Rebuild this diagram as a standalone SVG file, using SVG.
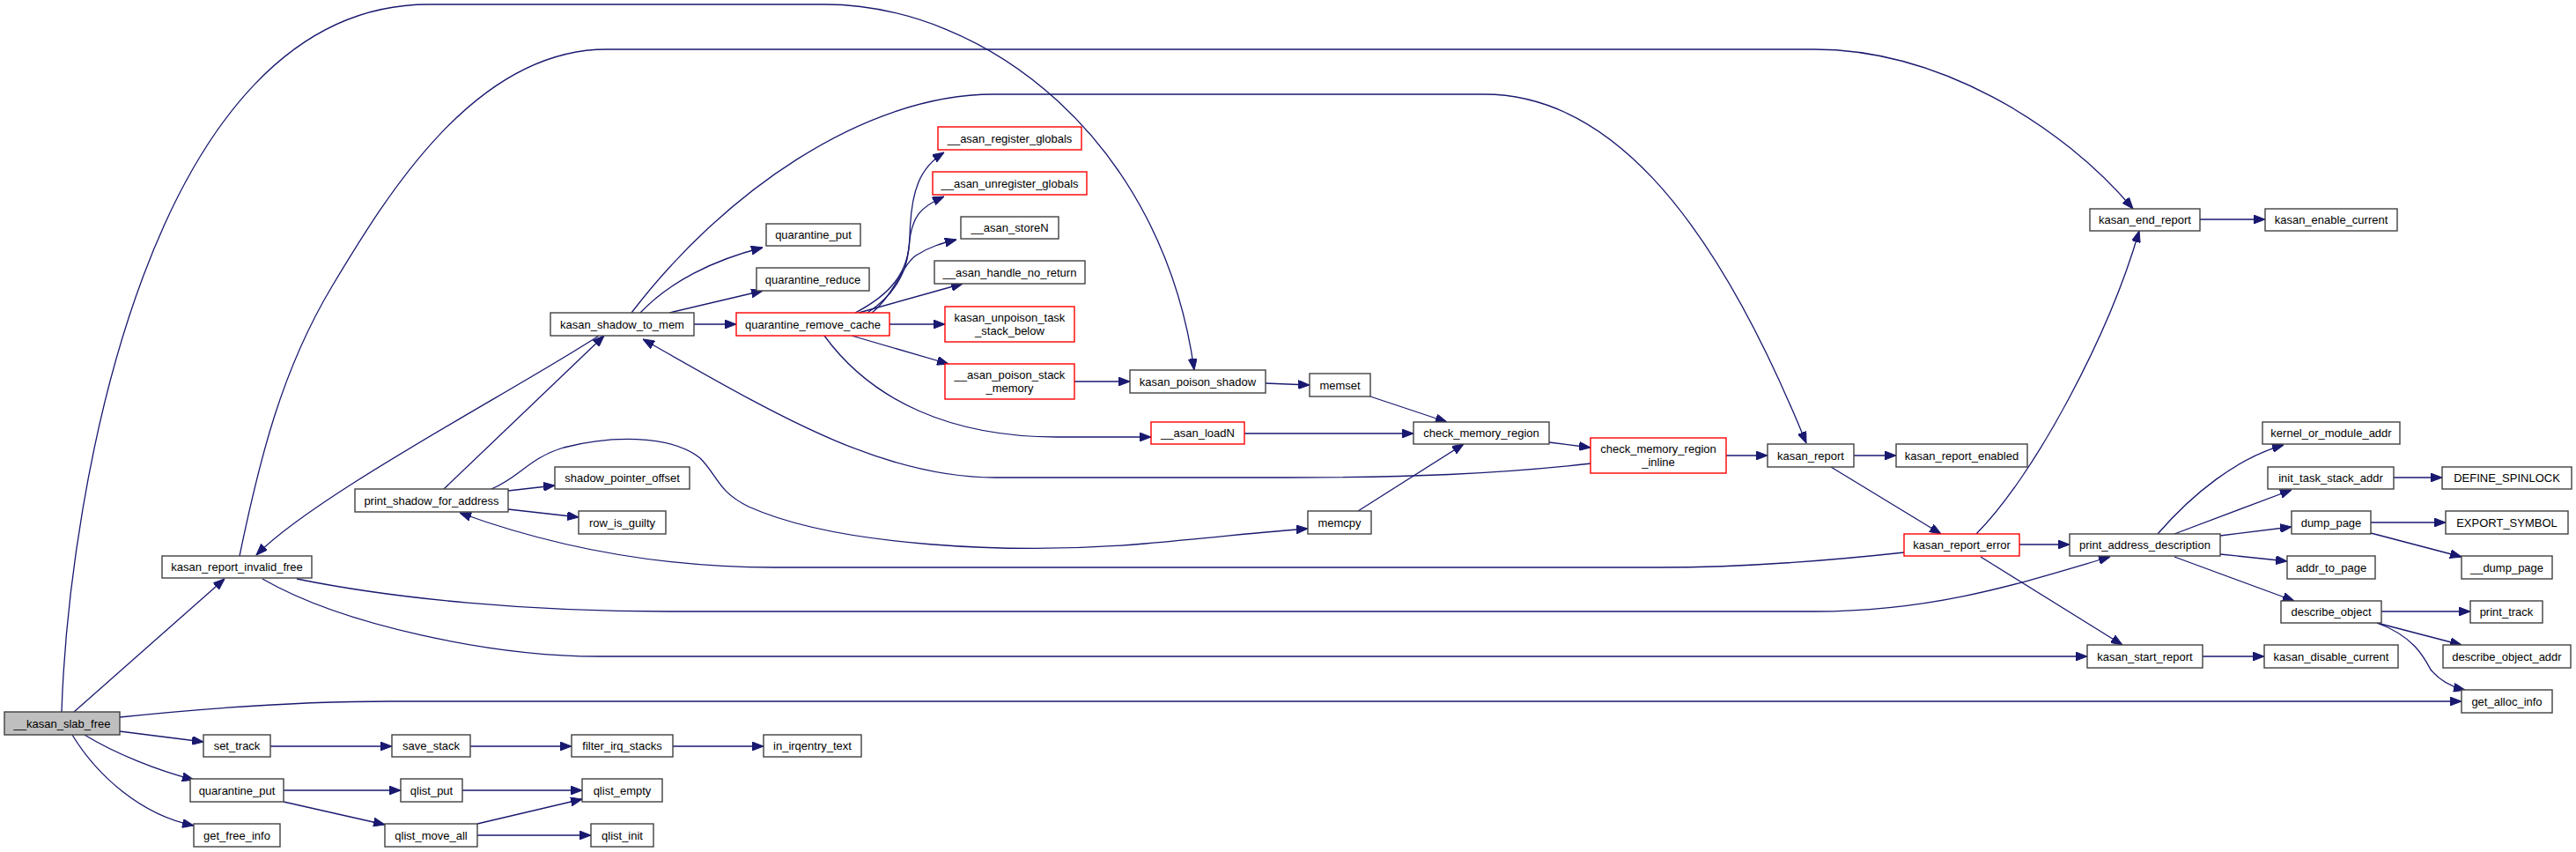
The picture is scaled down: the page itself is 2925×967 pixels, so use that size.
<svg xmlns="http://www.w3.org/2000/svg" width="2925" height="967" viewBox="0 0 2925 967">
<style>
.n rect{fill:#ffffff;stroke:#404040;stroke-width:1.4}
.r rect{stroke:#ff0000}
.root rect{fill:#bfbfbf}
text{font-family:"Liberation Sans",Arial,Helvetica,sans-serif;font-size:13px;text-anchor:middle;fill:#000000}
#edges path{fill:none;stroke:#191970;stroke-width:1.3;marker-end:url(#ah)}
</style>
<defs>
<marker id="ah" viewBox="0 0 13 10" refX="13" refY="5" markerWidth="13" markerHeight="10" markerUnits="userSpaceOnUse" orient="auto">
<path d="M0,0 L13,5 L0,10 z" fill="#191970" stroke="#191970" stroke-width="1"/>
</marker>
</defs>
<rect x="0" y="0" width="2925" height="967" fill="#ffffff"/>
<g id="edges">
<path d="M70,808 C78,560 170,5 487,5 L936,5 C1120,5 1320,160 1356,420"/>
<path d="M84,808 L255,657"/>
<path d="M136,814 C250,802 350,796 445,796 L2795,796"/>
<path d="M136,830 L231,842"/>
<path d="M96,834 C130,855 180,875 220,885"/>
<path d="M82,834 C110,880 160,925 220,937"/>
<path d="M307,847 L445,847"/>
<path d="M534,847 L649,847"/>
<path d="M764,847 L867,847"/>
<path d="M322,897 L455,897"/>
<path d="M322,910 L437,936"/>
<path d="M525,897 L661,897"/>
<path d="M542,935 L661,907"/>
<path d="M542,948 L671,948"/>
<path d="M272,631 C295,520 320,420 377,325 C440,220 540,56 689,56 L2060,56 C2200,56 2340,140 2422,237"/>
<path d="M717,355 C820,220 980,107 1128,107 L1685,107 C1820,107 1940,230 2051,503"/>
<path d="M727,355 C760,320 810,295 866,281"/>
<path d="M760,355 L866,330"/>
<path d="M788,368 L836,368"/>
<path d="M680,381 C590,440 360,560 291,630"/>
<path d="M504,555 L686,381"/>
<path d="M577,557 L630,551"/>
<path d="M577,578 L657,587"/>
<path d="M558,555 C590,542 600,520 640,508 C690,495 760,492 795,520 C815,540 815,558 850,575 C950,620 1150,630 1300,617 C1380,610 1440,603 1485,600"/>
<path d="M2162,627 C2080,636 1980,644 1882,644 L880,644 C760,644 640,625 522,582"/>
<path d="M971,355 C1010,335 1032,310 1033,270 C1034,215 1045,190 1072,173"/>
<path d="M985,355 C1015,335 1030,310 1032,280 C1035,245 1045,235 1072,223"/>
<path d="M990,355 C1015,335 1025,300 1040,290 C1055,280 1070,276 1086,272"/>
<path d="M975,355 L1093,322"/>
<path d="M1010,368 L1073,368"/>
<path d="M967,381 L1077,413"/>
<path d="M936,381 C990,455 1080,496 1200,496 L1307,496"/>
<path d="M1220,433 L1283,433"/>
<path d="M1437,435 L1487,437"/>
<path d="M1556,450 L1643,479"/>
<path d="M1413,492 L1605,492"/>
<path d="M1542,580 L1662,504"/>
<path d="M1759,502 L1806,508"/>
<path d="M1960,517 L2007,517"/>
<path d="M2105,517 L2153,517"/>
<path d="M2079,530 L2204,606"/>
<path d="M2293,618 L2350,618"/>
<path d="M2244,606 C2310,540 2395,380 2429,262"/>
<path d="M2249,632 L2410,732"/>
<path d="M2501,745 L2571,745"/>
<path d="M2498,249 L2572,249"/>
<path d="M337,657 C450,680 600,694 760,694 L2060,694 C2200,694 2300,660 2396,632"/>
<path d="M298,657 C390,710 560,745 680,745 L2370,745"/>
<path d="M2450,606 C2490,560 2540,520 2593,505"/>
<path d="M2469,606 L2602,556"/>
<path d="M2521,608 L2602,598"/>
<path d="M2521,629 L2597,637"/>
<path d="M2469,632 L2605,682"/>
<path d="M2718,542 L2773,542"/>
<path d="M2692,593 L2777,593"/>
<path d="M2692,605 L2795,632"/>
<path d="M2704,694 L2805,694"/>
<path d="M2699,707 L2795,732"/>
<path d="M2699,707 C2740,722 2752,745 2760,760 C2770,772 2785,780 2799,783"/>
<path d="M1807,526 C1700,538 1600,542 1460,542 L1130,542 C1000,542 880,470 730,385"/>
</g>
<g id="n_kasan_slab_free" class="n root"><rect x="5" y="808" width="131" height="26"/><text x="70.5" y="825.5">__kasan_slab_free</text></g>
<g id="n_kasan_poison_shadow" class="n"><rect x="1283" y="420" width="154" height="26"/><text x="1360" y="437.5">kasan_poison_shadow</text></g>
<g id="n_kasan_report_invalid_free" class="n"><rect x="184" y="631" width="170" height="25"/><text x="269" y="648">kasan_report_invalid_free</text></g>
<g id="n_get_alloc_info" class="n"><rect x="2795" y="783" width="103" height="26"/><text x="2846.5" y="800.5">get_alloc_info</text></g>
<g id="n_set_track" class="n"><rect x="231" y="834" width="76" height="25"/><text x="269" y="851">set_track</text></g>
<g id="n_quarantine_put_b" class="n"><rect x="216" y="884" width="106" height="26"/><text x="269" y="901.5">quarantine_put</text></g>
<g id="n_get_free_info" class="n"><rect x="220" y="935" width="98" height="26"/><text x="269" y="952.5">get_free_info</text></g>
<g id="n_save_stack" class="n"><rect x="445" y="834" width="89" height="25"/><text x="489.5" y="851">save_stack</text></g>
<g id="n_filter_irq_stacks" class="n"><rect x="649" y="834" width="115" height="25"/><text x="706.5" y="851">filter_irq_stacks</text></g>
<g id="n_in_irqentry_text" class="n"><rect x="867" y="834" width="111" height="25"/><text x="922.5" y="851">in_irqentry_text</text></g>
<g id="n_qlist_put" class="n"><rect x="455" y="884" width="70" height="26"/><text x="490" y="901.5">qlist_put</text></g>
<g id="n_qlist_move_all" class="n"><rect x="437" y="935" width="105" height="26"/><text x="489.5" y="952.5">qlist_move_all</text></g>
<g id="n_qlist_empty" class="n"><rect x="661" y="884" width="91" height="26"/><text x="706.5" y="901.5">qlist_empty</text></g>
<g id="n_qlist_init" class="n"><rect x="671" y="935" width="71" height="26"/><text x="706.5" y="952.5">qlist_init</text></g>
<g id="n_kasan_end_report" class="n"><rect x="2373" y="237" width="125" height="25"/><text x="2435.5" y="254">kasan_end_report</text></g>
<g id="n_kasan_enable_current" class="n"><rect x="2572" y="237" width="150" height="25"/><text x="2647" y="254">kasan_enable_current</text></g>
<g id="n_kasan_shadow_to_mem" class="n"><rect x="625" y="355" width="163" height="26"/><text x="706.5" y="372.5">kasan_shadow_to_mem</text></g>
<g id="n_quarantine_put_t" class="n"><rect x="870" y="254" width="107" height="25"/><text x="923.5" y="271">quarantine_put</text></g>
<g id="n_quarantine_reduce" class="n"><rect x="859" y="304" width="128" height="26"/><text x="923" y="321.5">quarantine_reduce</text></g>
<g id="n_quarantine_remove_cache" class="n r"><rect x="836" y="355" width="174" height="26"/><text x="923" y="372.5">quarantine_remove_cache</text></g>
<g id="n_asan_register_globals" class="n r"><rect x="1065" y="144" width="163" height="26"/><text x="1146.5" y="161.5">__asan_register_globals</text></g>
<g id="n_asan_unregister_globals" class="n r"><rect x="1059" y="195" width="175" height="26"/><text x="1146.5" y="212.5">__asan_unregister_globals</text></g>
<g id="n_asan_storeN" class="n"><rect x="1091" y="246" width="111" height="25"/><text x="1146.5" y="263">__asan_storeN</text></g>
<g id="n_asan_handle_no_return" class="n"><rect x="1061" y="296" width="171" height="26"/><text x="1146.5" y="313.5">__asan_handle_no_return</text></g>
<g id="n_kasan_unpoison_task_stack_below" class="n r"><rect x="1073" y="348" width="147" height="40"/><text x="1146.5" y="365">kasan_unpoison_task</text><text x="1146.5" y="380">_stack_below</text></g>
<g id="n_asan_poison_stack_memory" class="n r"><rect x="1073" y="413" width="147" height="40"/><text x="1146.5" y="430">__asan_poison_stack</text><text x="1146.5" y="445">_memory</text></g>
<g id="n_asan_loadN" class="n r"><rect x="1307" y="479" width="106" height="25"/><text x="1360" y="496">__asan_loadN</text></g>
<g id="n_memset" class="n"><rect x="1487" y="424" width="69" height="26"/><text x="1521.5" y="441.5">memset</text></g>
<g id="n_check_memory_region" class="n"><rect x="1605" y="479" width="154" height="25"/><text x="1682" y="496">check_memory_region</text></g>
<g id="n_check_memory_region_inline" class="n r"><rect x="1806" y="497" width="154" height="40"/><text x="1883" y="514">check_memory_region</text><text x="1883" y="529">_inline</text></g>
<g id="n_kasan_report" class="n"><rect x="2007" y="504" width="98" height="26"/><text x="2056" y="521.5">kasan_report</text></g>
<g id="n_kasan_report_enabled" class="n"><rect x="2153" y="504" width="149" height="26"/><text x="2227.5" y="521.5">kasan_report_enabled</text></g>
<g id="n_kasan_report_error" class="n r"><rect x="2162" y="606" width="131" height="25"/><text x="2227.5" y="623">kasan_report_error</text></g>
<g id="n_memcpy" class="n"><rect x="1485" y="580" width="72" height="26"/><text x="1521" y="597.5">memcpy</text></g>
<g id="n_print_shadow_for_address" class="n"><rect x="403" y="555" width="174" height="26"/><text x="490" y="572.5">print_shadow_for_address</text></g>
<g id="n_shadow_pointer_offset" class="n"><rect x="630" y="530" width="153" height="25"/><text x="706.5" y="547">shadow_pointer_offset</text></g>
<g id="n_row_is_guilty" class="n"><rect x="657" y="580" width="99" height="26"/><text x="706.5" y="597.5">row_is_guilty</text></g>
<g id="n_print_address_description" class="n"><rect x="2350" y="606" width="171" height="25"/><text x="2435.5" y="623">print_address_description</text></g>
<g id="n_kernel_or_module_addr" class="n"><rect x="2569" y="479" width="156" height="25"/><text x="2647" y="496">kernel_or_module_addr</text></g>
<g id="n_init_task_stack_addr" class="n"><rect x="2575" y="530" width="143" height="25"/><text x="2646.5" y="547">init_task_stack_addr</text></g>
<g id="n_DEFINE_SPINLOCK" class="n"><rect x="2773" y="530" width="147" height="25"/><text x="2846.5" y="547">DEFINE_SPINLOCK</text></g>
<g id="n_dump_page" class="n"><rect x="2602" y="580" width="90" height="26"/><text x="2647" y="597.5">dump_page</text></g>
<g id="n_EXPORT_SYMBOL" class="n"><rect x="2777" y="580" width="139" height="26"/><text x="2846.5" y="597.5">EXPORT_SYMBOL</text></g>
<g id="n_addr_to_page" class="n"><rect x="2597" y="631" width="100" height="26"/><text x="2647" y="648.5">addr_to_page</text></g>
<g id="n_dump_page2" class="n"><rect x="2795" y="631" width="103" height="26"/><text x="2846.5" y="648.5">__dump_page</text></g>
<g id="n_describe_object" class="n"><rect x="2590" y="682" width="114" height="25"/><text x="2647" y="699">describe_object</text></g>
<g id="n_print_track" class="n"><rect x="2805" y="682" width="82" height="25"/><text x="2846" y="699">print_track</text></g>
<g id="n_kasan_start_report" class="n"><rect x="2370" y="732" width="131" height="26"/><text x="2435.5" y="749.5">kasan_start_report</text></g>
<g id="n_kasan_disable_current" class="n"><rect x="2571" y="732" width="152" height="26"/><text x="2647" y="749.5">kasan_disable_current</text></g>
<g id="n_describe_object_addr" class="n"><rect x="2774" y="732" width="145" height="26"/><text x="2846.5" y="749.5">describe_object_addr</text></g>
</svg>
